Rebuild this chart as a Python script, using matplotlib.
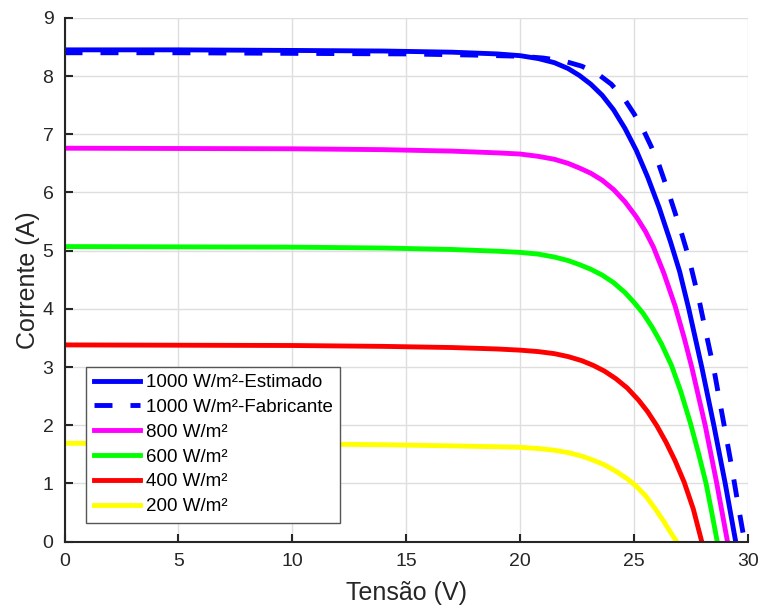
import matplotlib
matplotlib.use("Agg")
import matplotlib.pyplot as plt

plt.rcParams["font.family"] = ["Liberation Sans", "DejaVu Sans"]

# I-V curves of the PV module (voltage in V, current in A)
v_1000_est = [0, 5, 10, 14, 17, 19, 20, 20.8, 21.5, 22.1, 22.6, 23.1, 23.6, 24.1, 24.6,
              25.1, 25.6, 26.1, 26.6, 27.0, 27.4, 27.97, 28.5, 29.0, 29.46]
i_1000_est = [8.45, 8.45, 8.44, 8.43, 8.41, 8.38, 8.35, 8.30, 8.23, 8.13, 8.01, 7.86, 7.67, 7.42, 7.10,
              6.72, 6.26, 5.74, 5.15, 4.64, 4.00, 3.00, 2.00, 1.00, 0.00]

v_1000_fab = [0, 5, 10, 15, 18, 20, 21.0, 21.9, 22.7, 23.36, 24.0, 24.6, 25.0, 25.41, 25.75,
              26.07, 26.51, 26.8, 27.09, 27.31, 27.53, 27.87, 28.16, 28.51, 28.74, 28.99,
              29.3, 29.57, 29.85]
i_1000_fab = [8.40, 8.40, 8.39, 8.38, 8.36, 8.34, 8.31, 8.26, 8.17, 8.05, 7.86, 7.59, 7.35, 7.07, 6.79,
              6.50, 6.00, 5.65, 5.29, 5.00, 4.67, 4.12, 3.58, 2.95, 2.45, 1.92,
              1.25, 0.62, 0.00]

v_800 = [0, 5, 10, 14, 17, 19, 20, 20.8, 21.5, 22.1, 22.6, 23.1, 23.6, 24.1, 24.6,
         25.1, 25.5, 25.85, 26.3, 26.8, 27.2, 27.53, 28.12, 28.63, 29.1]
i_800 = [6.76, 6.755, 6.75, 6.735, 6.71, 6.68, 6.66, 6.62, 6.57, 6.50, 6.42, 6.33, 6.21, 6.05, 5.84,
         5.58, 5.33, 5.06, 4.62, 4.05, 3.50, 3.00, 2.00, 1.00, 0.00]

v_600 = [0, 5, 10, 14, 17, 19, 20, 20.8, 21.5, 22.1, 22.6, 23.1, 23.6, 24.1, 24.6,
         25.0, 25.4, 25.8, 26.2, 26.65, 27.05, 27.47, 27.82, 28.16, 28.41, 28.65]
i_600 = [5.07, 5.065, 5.06, 5.045, 5.02, 4.99, 4.97, 4.94, 4.89, 4.83, 4.76, 4.68, 4.58, 4.45, 4.28,
         4.11, 3.92, 3.68, 3.40, 3.02, 2.58, 2.04, 1.53, 1.00, 0.50, 0.00]

v_400 = [0, 5, 10, 14, 17, 19, 20, 20.8, 21.5, 22.1, 22.7, 23.2, 23.7, 24.2, 24.7,
         25.2, 25.6, 26.0, 26.4, 26.8, 27.2, 27.6, 27.97]
i_400 = [3.38, 3.375, 3.37, 3.355, 3.335, 3.31, 3.29, 3.265, 3.23, 3.18, 3.11, 3.03, 2.93, 2.80, 2.64,
         2.43, 2.23, 1.99, 1.71, 1.39, 1.02, 0.56, 0.00]

v_200 = [0, 5, 10, 14, 17, 19, 20, 20.8, 21.5, 22.1, 22.7, 23.2, 23.7, 24.2, 24.7,
         25.1, 25.5, 25.9, 26.3, 26.6, 26.87]
i_200 = [1.69, 1.685, 1.68, 1.665, 1.645, 1.63, 1.62, 1.60, 1.57, 1.53, 1.47, 1.40, 1.32, 1.21, 1.08,
         0.95, 0.79, 0.58, 0.35, 0.16, 0.00]

labels = ["1000 W/m²-Estimado", "1000 W/m²-Fabricante", "800 W/m²",
          "600 W/m²", "400 W/m²", "200 W/m²"]
x_ticks = [0, 5, 10, 15, 20, 25, 30]
y_ticks = [0, 1, 2, 3, 4, 5, 6, 7, 8, 9]

fig = plt.figure(figsize=(7.59, 6.07), dpi=100)
ax = fig.add_axes([0.085, 0.1077, 0.9005, 0.8629])

lw = 3.5
ax.plot(v_1000_est, i_1000_est, color="#0000ff", lw=lw, label=labels[0])
ax.plot(v_1000_fab, i_1000_fab, color="#0000ff", lw=lw, ls=(0, (3.7, 3.7)),
        dash_capstyle="butt", label=labels[1])
ax.plot(v_800, i_800, color="#ff00ff", lw=lw, label=labels[2])
ax.plot(v_600, i_600, color="#00ff00", lw=lw, label=labels[3])
ax.plot(v_400, i_400, color="#ff0000", lw=lw, label=labels[4])
ax.plot(v_200, i_200, color="#ffff00", lw=lw, label=labels[5])

ax.set_xlim(0, 30)
ax.set_ylim(0, 9)
ax.set_xticks(x_ticks)
ax.set_yticks(y_ticks)
ax.grid(True, color="#dedede", lw=1.0)
ax.set_axisbelow(True)

for side in ("top", "right"):
    ax.spines[side].set_visible(False)
for side in ("left", "bottom"):
    ax.spines[side].set_color("#262626")
    ax.spines[side].set_linewidth(1.5)

ax.tick_params(direction="in", length=5.5, width=1.5, colors="#262626",
               labelsize=14, pad=8)

ax.set_xlabel("Tensão (V)", fontsize=18, color="#262626", labelpad=8)
ax.set_ylabel("Corrente (A)", fontsize=18, color="#262626", labelpad=2)

leg = ax.legend(loc="lower left", bbox_to_anchor=(0.0315, 0.036), borderaxespad=0,
                fontsize=13.5, handlelength=2.5, handletextpad=0.3,
                labelspacing=0.41, borderpad=0.4, fancybox=False,
                edgecolor="#555555", framealpha=1)
leg.get_frame().set_linewidth(1.0)

fig.savefig("out.png", dpi=100)
